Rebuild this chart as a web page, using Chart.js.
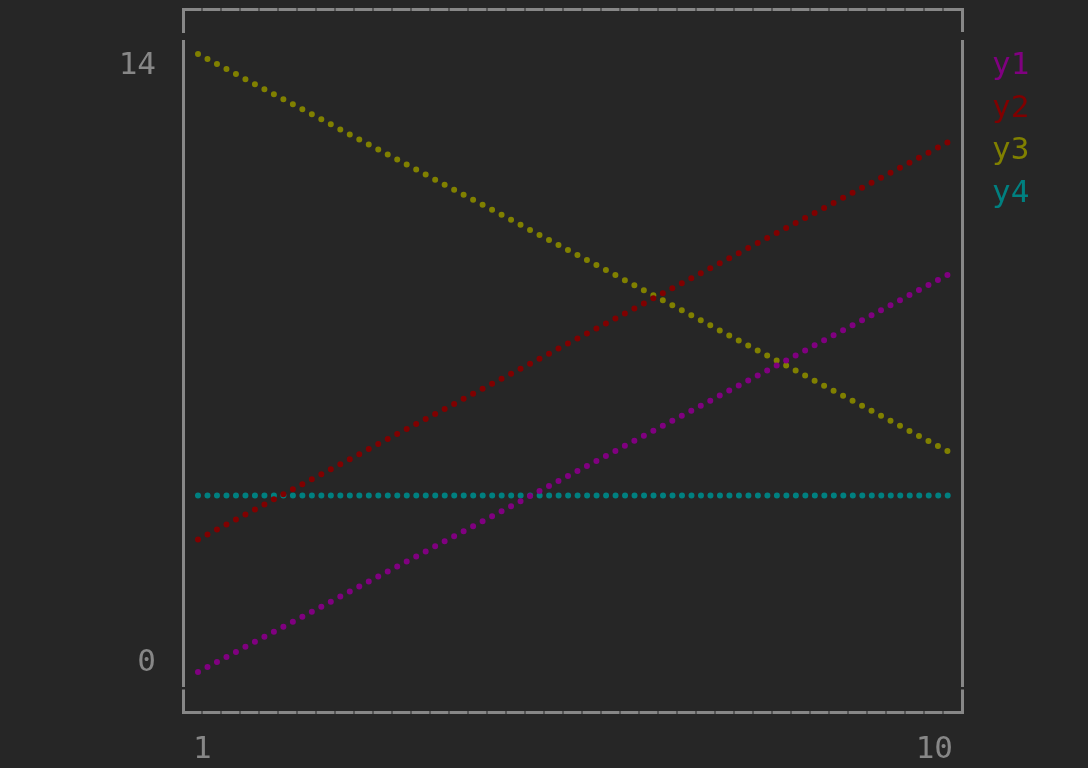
<!DOCTYPE html>
<html>
<head>
<meta charset="utf-8">
<script src="https://cdn.jsdelivr.net/npm/chart.js@4"></script>
<style>
  html, body { margin: 0; padding: 0; background: #262626; }
  #wrap { width: 1088px; height: 768px; position: relative; }
</style>
</head>
<body>
<div id="wrap"><canvas id="c"></canvas></div>
<script>
const xValues = [1, 2, 3, 4, 5, 6, 7, 8, 9, 10];
const y1 = [0, 1, 2, 3, 4, 5, 6, 7, 8, 9];
const y2 = [3, 4, 5, 6, 7, 8, 9, 10, 11, 12];
const y3 = [14, 13, 12, 11, 10, 9, 8, 7, 6, 5];
const y4 = [4, 4, 4, 4, 4, 4, 4, 4, 4, 4];
const seriesNames = ['y1', 'y2', 'y3', 'y4'];
const seriesColors = ['#800080', '#800000', '#808000', '#008080'];
const xTickLabels = ['1', '10'];
const yTickLabels = ['0', '14'];

const FONT = '31px "DejaVu Sans Mono", "Liberation Mono", monospace';
const GRAY = '#878787';

function pts(ys) { return ys.map((y, i) => ({ x: xValues[i], y })); }

const allSeries = [y1, y2, y3, y4];
const datasets = allSeries.map((ys, i) => ({
  label: seriesNames[i],
  data: pts(ys),
  borderColor: seriesColors[i],
  backgroundColor: seriesColors[i],
  borderWidth: 6,
  borderCapStyle: 'round',
  borderDash: i === 3 ? [0, 9.49] : [0, 10.735],
  pointRadius: 0,
  tension: 0,
  fill: false,
  clip: false
}));

const framePlugin = {
  id: 'frame',
  afterDraw(chart) {
    const ctx = chart.ctx;
    const xs = chart.scales.x, ys = chart.scales.y;
    const L = 183.5, R = 962.5, T = 9.5, B = 712.5;
    ctx.save();
    ctx.strokeStyle = GRAY;
    ctx.lineWidth = 3;
    ctx.lineCap = 'butt';
    ctx.setLineDash([18, 1]);
    ctx.beginPath();
    ctx.moveTo(L, T); ctx.lineTo(R, T);
    ctx.moveTo(L, B); ctx.lineTo(R, B);
    ctx.stroke();
    ctx.setLineDash([]);
    ctx.beginPath();
    ctx.moveTo(L, T - 1.5); ctx.lineTo(L, 33);
    ctx.moveTo(R, T - 1.5); ctx.lineTo(R, 32);
    ctx.moveTo(L, 40); ctx.lineTo(L, 687);
    ctx.moveTo(R, 40); ctx.lineTo(R, 687);
    ctx.moveTo(L, 689.5); ctx.lineTo(L, B + 1.5);
    ctx.moveTo(R, 689.5); ctx.lineTo(R, B + 1.5);
    ctx.stroke();

    ctx.fillStyle = GRAY;
    ctx.font = FONT;
    ctx.textBaseline = 'middle';
    ctx.textAlign = 'right';
    ctx.fillText(yTickLabels[0], 156, ys.getPixelForValue(0) - 9);
    ctx.fillText(yTickLabels[1], 156, ys.getPixelForValue(14) + 12);
    ctx.textAlign = 'left';
    ctx.fillText(xTickLabels[0], xs.getPixelForValue(1) - 5, 750);
    ctx.textAlign = 'right';
    ctx.fillText(xTickLabels[1], xs.getPixelForValue(10) + 5, 750);

    ctx.textAlign = 'left';
    seriesNames.forEach((n, i) => {
      ctx.fillStyle = seriesColors[i];
      ctx.fillText(n, 992, 66 + i * 42.5);
    });
    ctx.restore();
  }
};

new Chart(document.getElementById('c'), {
  type: 'line',
  data: { datasets },
  options: {
    responsive: true,
    maintainAspectRatio: false,
    animation: false,
    layout: { padding: { left: 198, right: 140, top: 54, bottom: 96 } },
    scales: {
      x: { type: 'linear', min: 1, max: 10, display: false },
      y: { type: 'linear', min: 0, max: 14, display: false }
    },
    plugins: { legend: { display: false }, tooltip: { enabled: false } }
  },
  plugins: [framePlugin]
});
</script>
</body>
</html>
